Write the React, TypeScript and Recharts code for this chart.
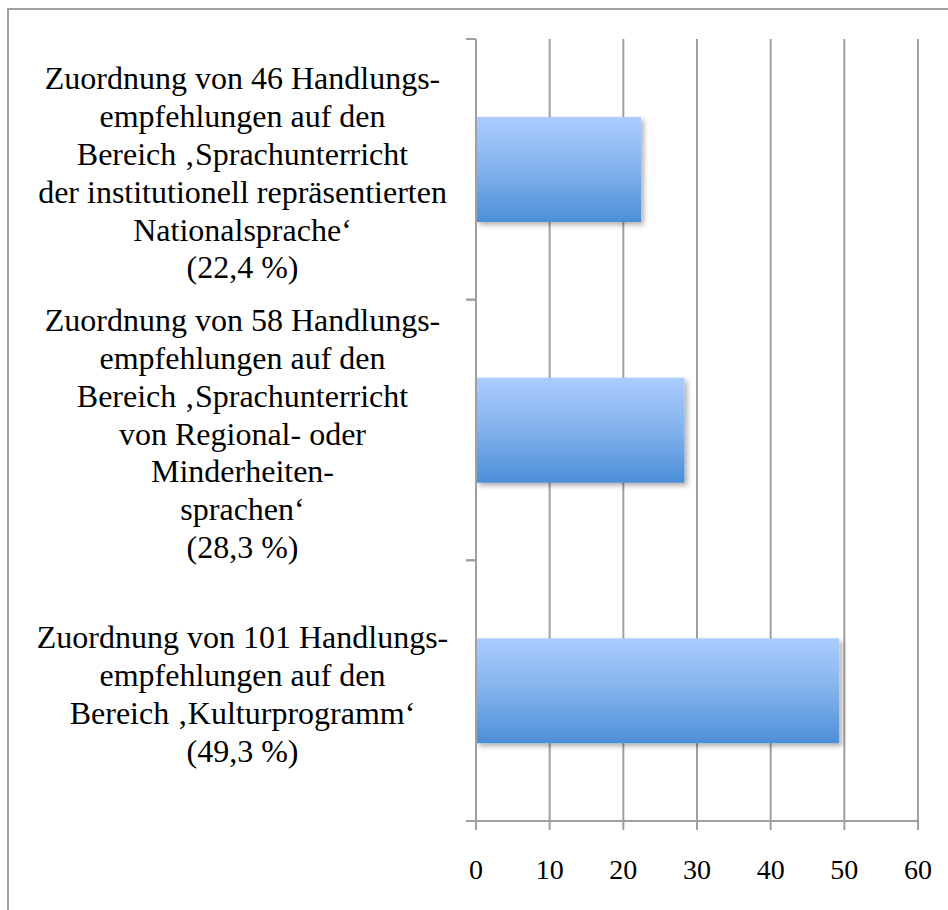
import React from 'react';
import { BarChart, Bar, XAxis, YAxis, CartesianGrid } from 'recharts';

const categoryLines: string[][] = [
  [
    'Zuordnung von 46 Handlungs-',
    'empfehlungen auf den',
    'Bereich ‚Sprachunterricht',
    'der institutionell repräsentierten',
    'Nationalsprache‘',
    '(22,4 %)',
  ],
  [
    'Zuordnung von 58 Handlungs-',
    'empfehlungen auf den',
    'Bereich ‚Sprachunterricht',
    'von Regional- oder',
    'Minderheiten-',
    'sprachen‘',
    '(28,3 %)',
  ],
  [
    'Zuordnung von 101 Handlungs-',
    'empfehlungen auf den',
    'Bereich ‚Kulturprogramm‘',
    '(49,3 %)',
  ],
];

const shares: number[] = [22.4, 28.3, 49.3];

const xTicks: number[] = [0, 10, 20, 30, 40, 50, 60];

const data = categoryLines.map((lines, i) => ({
  name: lines.join('\n'),
  value: shares[i],
}));

const FONT = '"Liberation Serif", "Times New Roman", serif';
const GRID = '#a0a0a0';
const CHART_W = 940;
const CHART_H = 900;
const MARGIN = { top: 29, right: 31, bottom: 0, left: 0 };
const XAXIS_H = 89;
const YAXIS_W = 467;
const PLOT_H = CHART_H - MARGIN.top - MARGIN.bottom - XAXIS_H;
const BAND = PLOT_H / categoryLines.length;
const LINE_H = 37.8;
const LABEL_FS = 32;

function CategoryTick(props: any) {
  const { y, payload } = props;
  const lines = String(payload.value).split('\n');
  const half = BAND / 2;
  const firstBaseline = y - ((lines.length - 1) / 2) * LINE_H + 14.5;
  const cx = YAXIS_W / 2;
  return (
    <g>
      <line x1={YAXIS_W - 10} x2={YAXIS_W} y1={y - half} y2={y - half} stroke={GRID} strokeWidth={2} />
      <line x1={YAXIS_W - 10} x2={YAXIS_W} y1={y + half} y2={y + half} stroke={GRID} strokeWidth={2} />
      <text x={cx} textAnchor="middle" fontFamily={FONT} fontSize={LABEL_FS} fill="#000">
        {lines.map((ln, i) => (
          <tspan key={i} x={cx} y={firstBaseline + i * LINE_H}>
            {ln}
          </tspan>
        ))}
      </text>
    </g>
  );
}

export default function App() {
  return (
    <div
      style={{
        position: 'fixed',
        left: 7,
        top: 8,
        width: 980,
        height: 940,
        borderLeft: `2px solid ${GRID}`,
        borderTop: `2px solid ${GRID}`,
        background: '#fff',
      }}
    >
      <BarChart
        width={CHART_W}
        height={CHART_H}
        data={data}
        layout="vertical"
        margin={MARGIN}
        barSize={105}
      >
        <defs>
          <linearGradient id="barGrad" x1="0" y1="0" x2="0" y2="1">
            <stop offset="0%" stopColor="#abcdff" />
            <stop offset="50%" stopColor="#82b2ec" />
            <stop offset="100%" stopColor="#4c8fd8" />
          </linearGradient>
          <filter id="barShadow" x="-5%" y="-10%" width="115%" height="130%">
            <feDropShadow dx="3" dy="3" stdDeviation="2.5" floodColor="#000" floodOpacity="0.3" />
          </filter>
        </defs>
        <CartesianGrid horizontal={false} vertical={true} stroke={GRID} strokeWidth={2} />
        <XAxis
          type="number"
          domain={[0, 60]}
          ticks={xTicks}
          interval={0}
          height={XAXIS_H}
          axisLine={{ stroke: GRID, strokeWidth: 2 }}
          tickLine={{ stroke: GRID, strokeWidth: 2 }}
          tickSize={9}
          tickMargin={29}
          tick={{ fontFamily: FONT, fontSize: 28, fill: '#000' }}
        />
        <YAxis
          type="category"
          dataKey="name"
          width={YAXIS_W}
          axisLine={{ stroke: GRID, strokeWidth: 2 }}
          tickLine={false}
          tick={<CategoryTick />}
          interval={0}
        />
        <Bar
          dataKey="value"
          fill="url(#barGrad)"
          filter="url(#barShadow)"
          isAnimationActive={false}
        />
      </BarChart>
    </div>
  );
}
